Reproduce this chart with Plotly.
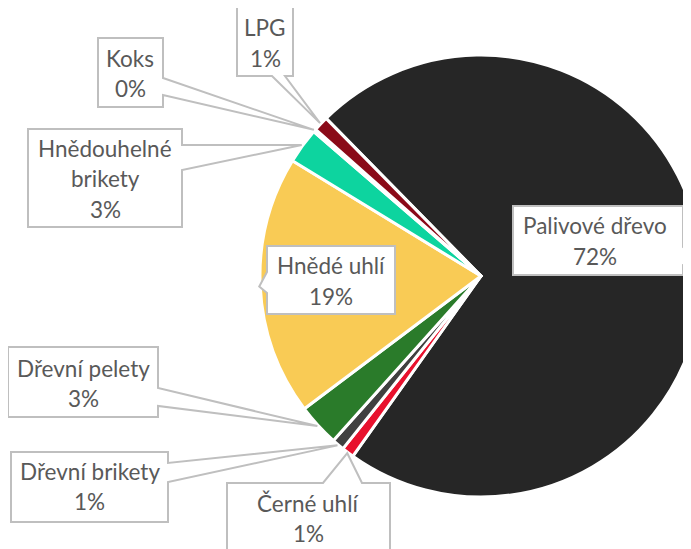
import plotly.graph_objects as go
import numpy as np

# slices, in drawing order (clockwise from the upper left)
labels = ["Palivové dřevo", "Černé uhlí", "Dřevní brikety", "Dřevní pelety",
          "Hnědé uhlí", "Hnědouhelné brikety", "Koks", "LPG"]
values = [72.2, 0.9, 0.9, 3.1, 19.0, 2.6, 0.2, 1.1]
colors = ["#262626", "#e8112d", "#404040", "#2a7b2a",
          "#f9cb55", "#0dd49f", "#7f7f7f", "#8a0a18"]
label_lines = [["Palivové dřevo"], ["Černé uhlí"], ["Dřevní brikety"], ["Dřevní pelety"],
               ["Hnědé uhlí"], ["Hnědouhelné", "brikety"], ["Koks"], ["LPG"]]

W, H = 700, 560
OFF = 8                       # page margin of the browser
CX, CY, R = 481, 276, 221     # pie centre and radius in window pixels
ROT = -44.5
LINE_GAP = 30.8

# callout boxes (window pixels): x0, y0, x1, y1, pointer side, pointer base a, b, text x, first line y
boxes = [
    (513, 206, 683, 275, "right", 247, 265, 595, 226.5),
    (227, 483, 390, 580, "top", 323, 362, 308, 503.5),
    (11, 452, 168, 522, "right", 463, 482, 89.5, 471.5),
    (8, 347, 158, 417, "right", 388, 406, 83, 368.5),
    (267, 246, 395, 314, "left", 272, 293, 331, 266.5),
    (28, 129, 182, 227, "right", 145, 170, 105, 148.5),
    (98, 38, 163, 107, "right", 78, 95, 130, 58.5),
    (237, 7, 293, 76, "bottom", 272, 285, 265, 28),
]

def px(x):
    return (x - OFF) / W

def py(y):
    return 1 - (y - OFF) / H

# pie domain from centre / radius
dom_x = [px(CX - R), px(CX + R)]
dom_y = [py(CY + R), py(CY - R)]

fig = go.Figure(go.Pie(
    labels=labels, values=values, sort=False,
    direction="clockwise", rotation=ROT,
    marker=dict(colors=colors, line=dict(color="white", width=3)),
    textinfo="none", showlegend=False,
    domain=dict(x=dom_x, y=dom_y),
))

# callout tips: middle of each slice on the pie rim
vals = np.array(values)
total = vals.sum()
mid = ROT + 360 * (np.cumsum(vals) - vals / 2) / total
tips_x = CX + (R + 1) * np.sin(np.deg2rad(mid))
tips_y = CY - (R + 1) * np.cos(np.deg2rad(mid))

shapes = []
annotations = []
for i, (x0, y0, x1, y1, side, a, b, tx, ty) in enumerate(boxes):
    t = (tips_x[i], tips_y[i])
    if side == "right":
        pts = [(x0, y0), (x1, y0), (x1, a), t, (x1, b), (x1, y1), (x0, y1)]
    elif side == "left":
        pts = [(x0, y0), (x1, y0), (x1, y1), (x0, y1), (x0, b), t, (x0, a)]
    elif side == "bottom":
        pts = [(x0, y0), (x1, y0), (x1, y1), (b, y1), t, (a, y1), (x0, y1)]
    else:
        pts = [(x0, y0), (a, y0), t, (b, y0), (x1, y0), (x1, y1), (x0, y1)]
    path = "M " + " L ".join(f"{px(p[0]):.5f},{py(p[1]):.5f}" for p in pts) + " Z"
    shapes.append(dict(type="path", path=path, xref="paper", yref="paper",
                       fillcolor="white", line=dict(color="#bfbfbf", width=2),
                       layer="above"))
    lines = label_lines[i] + [f"{values[i]:.0f}%"]
    for j, s in enumerate(lines):
        annotations.append(dict(text=s, x=px(tx), y=py(ty + j * LINE_GAP - 0.5),
                                xref="paper", yref="paper", showarrow=False,
                                xanchor="center", yanchor="middle",
                                font=dict(family="Lato", size=22.5, color="#595959")))

fig.update_layout(
    width=W, height=H,
    margin=dict(l=0, r=0, t=0, b=0),
    paper_bgcolor="white", plot_bgcolor="white",
    shapes=shapes, annotations=annotations,
)

fig.write_html("out.html")
